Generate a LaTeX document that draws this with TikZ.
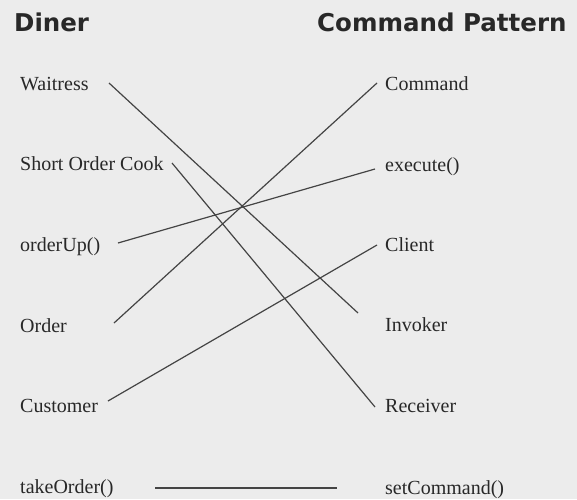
\documentclass[tikz,border=0pt]{standalone}
\usepackage{fontspec}
\setmainfont{Liberation Serif}
\newfontfamily\titlefont{DejaVu Sans}
\usepackage{tikz}
\definecolor{DinerPaper}{RGB}{236,236,236}
\definecolor{DinerInk}{RGB}{40,40,40}
\definecolor{DinerLine}{RGB}{68,68,68}

\begin{document}
\begin{tikzpicture}[x=1pt,y=-1pt,
  ttl/.style={anchor=base west,inner sep=0pt,text=DinerInk,font=\titlefont\bfseries\fontsize{24.5}{28}\selectfont},
  lbl/.style={anchor=base west,inner sep=0pt,text=DinerInk,font=\fontsize{20}{23}\selectfont},
  link/.style={DinerLine,line width=1.2pt}]
\fill[DinerPaper] (0,0) rectangle (577,499);
\useasboundingbox (0,0) rectangle (577,499);
\node[ttl] (diner) at (14,31) {Diner};
\node[ttl] (pattern) at (317,31) {Command Pattern};
\foreach \n/\y/\1 in %
{waitress/90/Waitress,cook/170/Short Order Cook,orderup/251/{orderUp()},order/332/Order,customer/412/Customer,takeorder/493/{takeOrder()}} {
   \node[lbl] (\n) at (20,\y) {\1};
}
\foreach \n/\y/\1 in %
{command/90/Command,execute/171/{execute()},client/251/Client,invoker/331/Invoker,receiver/412/Receiver,setcommand/494/{setCommand()}} {
   \node[lbl] (\n) at (385,\y) {\1};
}
\foreach \a/\sa/\b/\sb in %
{waitress/{89,-7}/invoker/{-27,-18},cook/{152,-7}/receiver/{-10,-5},orderup/{98,-8}/execute/{-10,-2},
 order/{94,-9}/command/{-8,-7},customer/{88,-11}/client/{-8,-6},takeorder/{135,-5}/setcommand/{-48,-6}} {
   \draw[link] ([shift={(\sa)}]\a.base west) -- ([shift={(\sb)}]\b.base west);
}
\end{tikzpicture}
\end{document}
